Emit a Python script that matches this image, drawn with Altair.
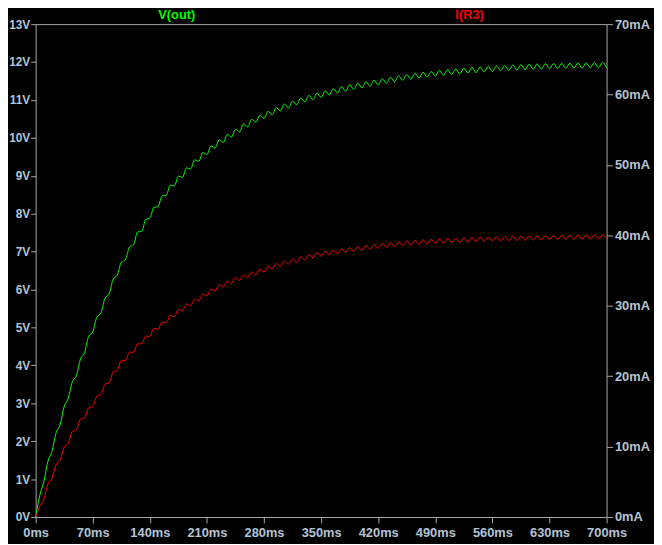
import altair as alt
import pandas as pd

# time axis (ms), samples every 5 ms
t_ms = list(range(0, 705, 5))

# V(out) in volts (ripple peaks/troughs)
v_out = [
    0.00, 0.57, 0.93, 1.47, 1.73, 2.22, 2.43, 2.92, 3.13, 3.57,
    3.73, 4.17, 4.33, 4.77, 4.88, 5.27, 5.38, 5.77, 5.88, 6.27,
    6.38, 6.72, 6.78, 7.12, 7.18, 7.52, 7.53, 7.85, 7.88, 8.17,
    8.18, 8.47, 8.48, 8.75, 8.73, 8.99, 8.96, 9.21, 9.18, 9.42,
    9.38, 9.61, 9.56, 9.79, 9.73, 9.95, 9.88, 10.09, 10.02, 10.23,
    10.16, 10.37, 10.29, 10.49, 10.41, 10.60, 10.51, 10.70, 10.61, 10.80,
    10.71, 10.89, 10.79, 10.97, 10.87, 11.05, 10.95, 11.12, 11.01, 11.18,
    11.07, 11.24, 11.13, 11.30, 11.18, 11.35, 11.23, 11.40, 11.28, 11.44,
    11.32, 11.48, 11.36, 11.52, 11.40, 11.56, 11.44, 11.60, 11.48, 11.64,
    11.52, 11.67, 11.55, 11.70, 11.58, 11.73, 11.60, 11.75, 11.63, 11.78,
    11.65, 11.80, 11.67, 11.82, 11.69, 11.84, 11.71, 11.86, 11.72, 11.87,
    11.74, 11.89, 11.75, 11.90, 11.77, 11.91, 11.78, 11.92, 11.79, 11.93,
    11.80, 11.94, 11.81, 11.95, 11.81, 11.96, 11.82, 11.96, 11.83, 11.97,
    11.83, 11.97, 11.84, 11.98, 11.84, 11.98, 11.85, 11.99, 11.85, 11.99,
    11.85,
]

# I(R3) in mA (ripple peaks/troughs)
i_r3 = [
    0.0, 1.5, 2.5, 4.7, 5.5, 7.4, 8.1, 9.9, 10.5, 12.1,
    12.4, 13.9, 14.1, 15.5, 15.7, 17.15, 17.4, 18.85, 19.1, 20.55,
    20.8, 22.2, 22.2, 23.4, 23.4, 24.6, 24.6, 25.7, 25.65, 26.8,
    26.65, 27.7, 27.55, 28.6, 28.45, 29.45, 29.25, 30.25, 30.0, 30.95,
    30.7, 31.65, 31.4, 32.35, 32.1, 33.0, 32.65, 33.5, 33.15, 34.0,
    33.6, 34.4, 34.0, 34.8, 34.4, 35.2, 34.8, 35.6, 35.2, 36.0,
    35.6, 36.35, 35.9, 36.65, 36.2, 36.95, 36.5, 37.25, 36.8, 37.55,
    37.05, 37.75, 37.25, 37.9, 37.4, 38.1, 37.6, 38.25, 37.73, 38.4,
    37.88, 38.55, 38.03, 38.7, 38.18, 38.85, 38.3, 38.95, 38.42, 39.08,
    38.55, 39.2, 38.64, 39.28, 38.72, 39.36, 38.8, 39.43, 38.86, 39.49,
    38.92, 39.55, 38.98, 39.6, 39.03, 39.65, 39.07, 39.69, 39.11, 39.73,
    39.15, 39.76, 39.18, 39.79, 39.2, 39.82, 39.24, 39.86, 39.27, 39.89,
    39.3, 39.92, 39.33, 39.94, 39.35, 39.97, 39.38, 39.99, 39.4, 40.01,
    39.42, 40.03, 39.44, 40.05, 39.46, 40.07, 39.47, 40.08, 39.49, 40.09,
    39.5,
]

x_ticks = [0, 70, 140, 210, 280, 350, 420, 490, 560, 630, 700]
v_ticks = list(range(0, 14))
i_ticks = [0, 10, 20, 30, 40, 50, 60, 70]

trace_names = ["V(out)", "I(R3)"]
trace_colors = ["#00ff00", "#ff0000"]
trace_label_t = [173, 532]

FONT = "Liberation Sans, Arial, sans-serif"
LABEL_COLOR = "#b4c4d4"
FRAME_COLOR = "#a8a8a8"

df = pd.DataFrame({"t": t_ms, "v": v_out, "i": i_r3})
labels = pd.DataFrame({"name": trace_names, "c": trace_colors, "t": trace_label_t})

axis_common = dict(
    grid=False,
    domain=False,
    ticks=True,
    tickColor=FRAME_COLOR,
    labelColor=LABEL_COLOR,
    labelFont=FONT,
    labelFontWeight="bold",
    title=None,
    labelOverlap=False,
    labelFlush=False,
)

x_scale = alt.Scale(domain=[0, 700], nice=False, zero=False)

x_enc = alt.X(
    "t:Q",
    scale=x_scale,
    axis=alt.Axis(values=x_ticks, labelExpr="datum.value + 'ms'", labelFontSize=13,
                  tickSize=6, labelPadding=4, **axis_common),
)

v_line = alt.Chart(df).mark_line(color=trace_colors[0], strokeWidth=1, interpolate="monotone").encode(
    x=x_enc,
    y=alt.Y(
        "v:Q",
        scale=alt.Scale(domain=[0, 13], nice=False),
        axis=alt.Axis(orient="left", values=v_ticks, labelExpr="datum.value + 'V'", labelFontSize=12,
                      tickSize=5, labelPadding=1, **axis_common),
    ),
)

i_line = alt.Chart(df).mark_line(color=trace_colors[1], strokeWidth=1, interpolate="monotone").encode(
    x=alt.X("t:Q", scale=x_scale),
    y=alt.Y(
        "i:Q",
        scale=alt.Scale(domain=[0, 70], nice=False),
        axis=alt.Axis(orient="right", values=i_ticks, labelExpr="datum.value + 'mA'", labelFontSize=13,
                      tickSize=6, labelPadding=2, **axis_common),
    ),
)

names = alt.Chart(labels).mark_text(
    font=FONT, fontSize=13, fontWeight="bold", baseline="alphabetic", align="center"
).encode(
    x=alt.X("t:Q", scale=x_scale),
    y=alt.value(-5),
    text="name:N",
    color=alt.Color("c:N", scale=None),
)

chart = (
    alt.layer(v_line, i_line, names)
    .resolve_scale(y="independent")
    .properties(
        width=578,
        height=499,
        autosize="none",
        padding={"left": 28, "top": 13, "right": 48, "bottom": 24},
        background="#000000",
    )
    .configure_view(stroke=FRAME_COLOR, strokeWidth=1)
)

chart.save("out.html", embed_options={"renderer": "svg", "actions": False})
